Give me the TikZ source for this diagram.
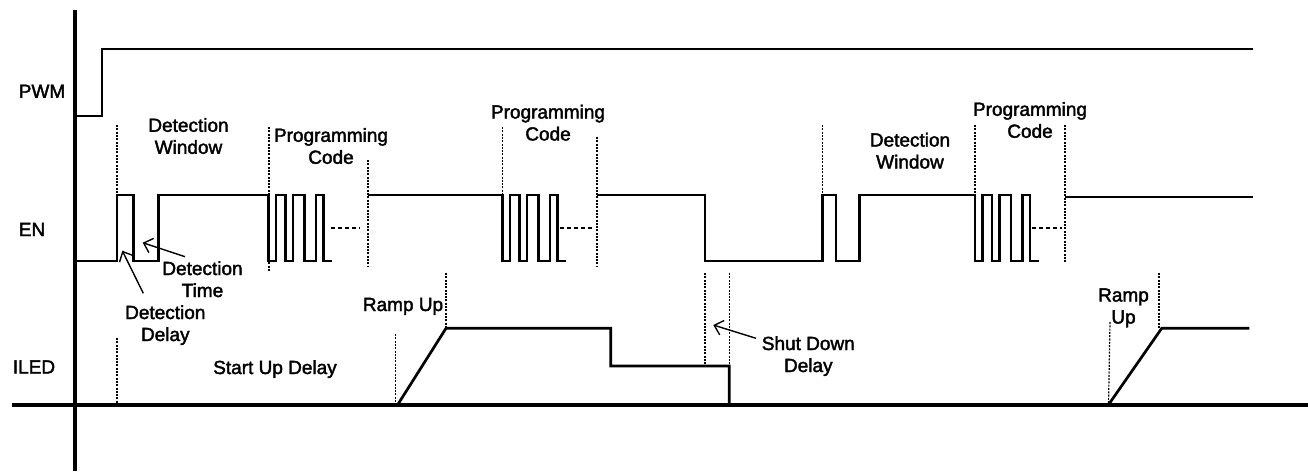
\documentclass[tikz,border=0pt]{standalone}
\usepackage{fontspec}
\setmainfont[FakeBold=2]{Liberation Sans}
\usetikzlibrary{arrows.meta}
\tikzset{
  sig/.style={line width=2.7pt, line join=miter},
  axis/.style={line width=4.5pt},
  guide/.style={line width=1.2pt, dash pattern=on 2pt off 1.3pt},
  cont/.style={line width=2.2pt, dash pattern=on 4pt off 3pt},
  ptr/.style={line width=1.4pt, -{Straight Barb[length=8pt,width=15pt]}},
  lbl/.style={font=\fontsize{19}{22}\selectfont, align=center, anchor=base, inner sep=0pt},
  progpulses/.style={insert path={-- ++(0,66) -- ++(7.5,0) -- ++(0,-66) -- ++(9.5,0) -- ++(0,66) -- ++(7.5,0) -- ++(0,-66) -- ++(11.5,0) -- ++(0,66) -- ++(11.5,0) -- ++(0,-66) -- ++(7.5,0) -- ++(0,66) -- ++(8.5,0)}}
}
\begin{document}
\begin{tikzpicture}[x=1pt,y=-1pt]
\useasboundingbox (0,0) rectangle (1308,471);
% axes
\draw[axis] (75,10) -- (75,471);
\draw[axis] (12,405) -- (1308,405);
% signal labels
\node[lbl] (pwm) at (42,97.8) {PWM};
\node[lbl] (en) at (32,236) {EN};
\node[lbl] (iled) at (34,373.5) {ILED};
% PWM
\draw[sig] (75,116) -- (102,116) -- (102,49) -- (1253,49);
% EN
\draw[sig] (75,261) -- (117,261) -- (117,195) -- (133.5,195) -- (133.5,261) -- (158.5,261) -- (158.5,195) -- (268.5,195) [progpulses];
\draw[sig] (368,195) -- (502.5,195) [progpulses];
\draw[sig] (597,195) -- (705,195) -- (705,261) -- (822.7,261) -- (822.7,195) -- (836,195) -- (836,261) -- (859.3,261) -- (859.3,195) -- (975,195) [progpulses];
\draw[sig] (1065,197) -- (1253,197);
\draw[cont] (331,228) -- (360,228);
\draw[cont] (560,228) -- (592,228);
\draw[cont] (1032,228) -- (1062,228);
% ILED
\draw[sig] (397.5,405) -- (446,328.3) -- (610.7,328.3) -- (610.7,366) -- (729.3,366) -- (729.3,405);
\draw[sig] (1108.3,405) -- (1161.7,328.3) -- (1249.3,328.3);
% guide lines
\draw[guide] (117,125) -- (117,195);
\draw[guide] (117,338) -- (117,405);
\draw[guide] (269,127) -- (269,272);
\draw[guide] (368,160) -- (368,267);
\draw[guide] (502.5,127) -- (502.5,261);
\draw[guide] (597,137) -- (597,267);
\draw[guide] (822.7,125) -- (822.7,195);
\draw[guide] (975,125) -- (975,261);
\draw[guide] (1065,125) -- (1065,262);
\draw[guide] (395.7,334) -- (395.7,405);
\draw[guide] (446,273) -- (446,328);
\draw[guide] (705,273) -- (705,366);
\draw[guide] (729.3,273) -- (729.3,366);
\draw[guide] (1110,322) -- (1108.5,405);
\draw[guide] (1159,273) -- (1159,328);
% annotation labels (base anchor = baseline of last line)
\node[lbl] (dw1) at (188.5,153.8) {Detection\\Window};
\node[lbl] (pc1) at (331,163.8) {Programming\\Code};
\node[lbl] (pc2) at (548,140.5) {Programming\\Code};
\node[lbl] (dw2) at (910,168.5) {Detection\\Window};
\node[lbl] (pc3) at (1030,137.8) {Programming\\Code};
\node[lbl] (dt) at (202.5,297) {Detection\\Time};
\node[lbl] (dd) at (165.3,341) {Detection\\Delay};
\node[lbl] (ru1) at (403,311) {Ramp Up};
\node[lbl] (sud) at (275,374) {Start Up Delay};
\node[lbl] (sdd) at (808.3,372) {Shut Down\\Delay};
\node[lbl] (ru2) at (1123.5,323.5) {Ramp\\Up};
% pointers
\coordinate (dtS) at (185,256.7);
\coordinate (dtT) at (142.7,242.7);
\coordinate (ddS) at (143.3,293.3);
\coordinate (ddT) at (122.3,250.7);
\coordinate (sdS) at (756,338.3);
\coordinate (sdT) at (713.3,325);
\draw[ptr] (dtS) -- (dtT);
\draw[ptr] (ddS) -- (ddT);
\draw[ptr] (sdS) -- (sdT);
\end{tikzpicture}
\end{document}
